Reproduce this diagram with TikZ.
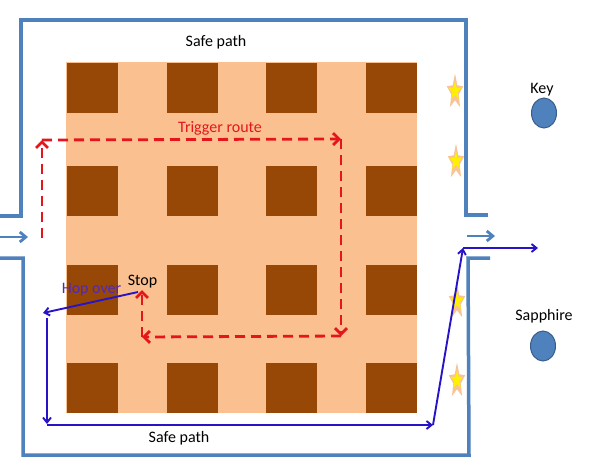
\documentclass[tikz,border=0pt]{standalone}
\usepackage{fontspec}
\setmainfont{Carlito}
\usetikzlibrary{arrows.meta,shapes.geometric}
\definecolor{wall}{RGB}{79,129,189}
\definecolor{peach}{RGB}{250,192,144}
\definecolor{brownsq}{RGB}{151,71,6}
\definecolor{trig}{RGB}{228,22,28}
\definecolor{hop}{RGB}{40,20,200}
\definecolor{hoptext}{RGB}{80,40,190}
\definecolor{gemfill}{RGB}{79,129,189}
\definecolor{gemline}{RGB}{56,93,138}
\definecolor{starline}{RGB}{248,196,150}
\definecolor{staryellow}{RGB}{255,240,0}
\newcommand\mystar[2]{%
  \begin{scope}[shift={(#1,#2)}]
    \fill[starline,xscale=8.6,yscale=18.5] (-90:1) -- (-54:0.45) -- (-18:1) -- (18:0.45) -- (54:1) -- (90:0.45) -- (126:1) -- (162:0.45) -- (198:1) -- (234:0.45) -- cycle;
    \fill[staryellow,xscale=6.4,yscale=9.6,yshift=0.1] (-90:1) -- (-54:0.42) -- (-18:1) -- (18:0.42) -- (54:1) -- (90:0.42) -- (126:1) -- (162:0.42) -- (198:1) -- (234:0.42) -- cycle;
  \end{scope}}
\begin{document}
\begin{tikzpicture}[x=1pt,y=-1pt,
  wallline/.style={draw=wall,line width=3.5pt,line join=miter},
  wallarrow/.style={draw=wall,line width=2.8pt,-{Straight Barb[length=6pt,width=10pt]}},
  trigline/.style={draw=trig,line width=2.8pt,dash pattern=on 10pt off 6pt,-{Straight Barb[length=6pt,width=12pt]}},
  hopline/.style={draw=hop,line width=1.9pt,-{Straight Barb[length=5pt,width=8pt]}},
  lbl/.style={font=\fontsize{16}{19}\selectfont,inner sep=0pt,anchor=base},
  brick/.style={fill=brownsq},
  gem/.style={ellipse,fill=gemfill,draw=gemline,line width=1pt,minimum width=25pt,minimum height=30pt,inner sep=0pt}]
\useasboundingbox (0,0) rectangle (600,475);
\fill[white] (0,0) rectangle (600,475);
% field
\fill[peach] (66,62) rectangle (417,413);
\foreach \bx in {67,167,266,366}
  \foreach \by in {63,166,265,363}
    \fill[brick] (\bx,\by) rectangle ++(51,50);
% walls
\draw[wallline] (0,216) -- (21,216) -- (21,20) -- (466,20) -- (466,215) -- (488,215);
\draw[wallline] (0,258) -- (23,258) -- (23,455) -- (469,455) -- (468,258) -- (490,258);
% entry / exit arrows
\coordinate (inS) at (0,237);
\coordinate (inE) at (28,237);
\coordinate (outS) at (467,236);
\coordinate (outE) at (495,236);
\draw[wallarrow] (inS) -- (inE);
\draw[wallarrow] (outS) -- (outE);
% stars
\mystar{455}{92}
\mystar{456}{162}
\mystar{457}{302}
\mystar{457}{381}
% trigger route
\coordinate (r1) at (42,238);
\coordinate (r2) at (42,140);
\coordinate (r3) at (341,139);
\coordinate (r4) at (341,336);
\coordinate (r5) at (142,337);
\coordinate (r6) at (142,290);
\draw[trigline] (r1) -- (r2);
\draw[trigline] (r2) -- (r3);
\draw[trigline] (r3) -- (r4);
\draw[trigline] (r4) -- (r5);
\draw[trigline] (r5) -- (r6);
% hop over / safe path
\coordinate (h1) at (138,292);
\coordinate (h2) at (43,313);
\coordinate (h3) at (47,318);
\coordinate (h4) at (47,424);
\coordinate (h4b) at (47,425);
\coordinate (h5) at (433,425);
\coordinate (h6) at (463,248);
\coordinate (h7) at (538,248);
\draw[hopline] (h1) -- (h2);
\draw[hopline] (h3) -- (h4);
\draw[hopline] (h4b) -- (h5);
\draw[hopline] (h5) -- (h6);
\draw[hopline] (h6) -- (h7);
% labels
\node[lbl] (safetop) at (216,46) {Safe path};
\node[lbl,text=trig] (trigtxt) at (220,132.5) {Trigger route};
\node[lbl] (stoptxt) at (142.5,285) {Stop};
\node[lbl,text=hoptext] (hoptxt) at (91.5,293.5) {Hop over};
\node[lbl] (safebot) at (179,442) {Safe path};
\node[lbl] (keytxt) at (542,93) {Key};
\node[lbl] (sapptxt) at (544,320.5) {Sapphire};
% gems
\node[gem] (key) at (544,113) {};
\node[gem] (sapph) at (543,346) {};
\end{tikzpicture}
\end{document}
